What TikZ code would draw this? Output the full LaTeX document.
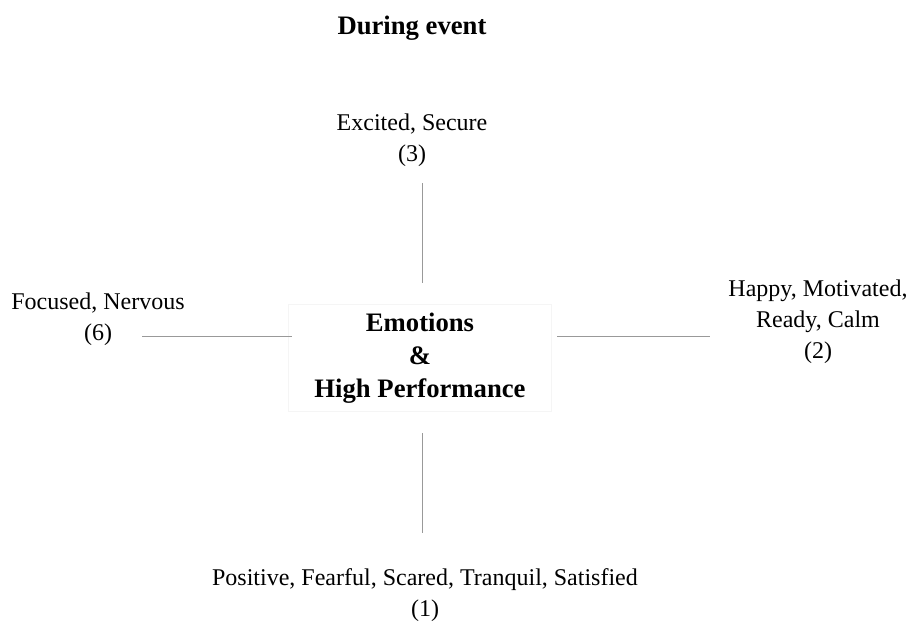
\documentclass[tikz,border=0pt]{standalone}
\usepackage{fontspec}
\setmainfont{Liberation Serif}
\usepackage{tikz}

\tikzset{
  emotion/.style={align=center,font=\fontsize{18}{23.25}\selectfont,inner sep=0pt},
  spoke/.style={draw=black!40,line width=0.6pt},
}

\begin{document}
\begin{tikzpicture}[x=0.75pt,y=-0.75pt]
  \useasboundingbox (0,0) rectangle (910,621);
  % title
  \node[font=\bfseries\fontsize{20}{24}\selectfont] (title) at (412,28) {During event};
  % centre
  \node[draw=black!4,minimum width=263*0.75pt,minimum height=107*0.75pt,
    align=center,font=\bfseries\fontsize{20}{24.75}\selectfont] (centre) at (420,358)
    {Emotions\\ \&\\ High Performance};
  % the four phases
  \node[emotion] (top) at (412,140) {Excited, Secure\\ (3)};
  \node[emotion] (left) at (98,319) {Focused, Nervous\\ (6)};
  \node[emotion] (right) at (818,322) {Happy, Motivated,\\ Ready, Calm\\ (2)};
  \node[emotion] (bottom) at (425,595) {Positive, Fearful, Scared, Tranquil, Satisfied\\ (1)};
  % spoke ends
  \coordinate (top-a) at (422,183);
  \coordinate (top-b) at (422,283);
  \coordinate (left-a) at (142,336);
  \coordinate (left-b) at (292,336);
  \coordinate (right-a) at (557,336);
  \coordinate (right-b) at (710,336);
  \coordinate (bottom-a) at (422,433);
  \coordinate (bottom-b) at (422,533);
  \draw[spoke] (top-a) -- (top-b);
  \draw[spoke] (left-a) -- (left-b);
  \draw[spoke] (right-a) -- (right-b);
  \draw[spoke] (bottom-a) -- (bottom-b);
\end{tikzpicture}
\end{document}
